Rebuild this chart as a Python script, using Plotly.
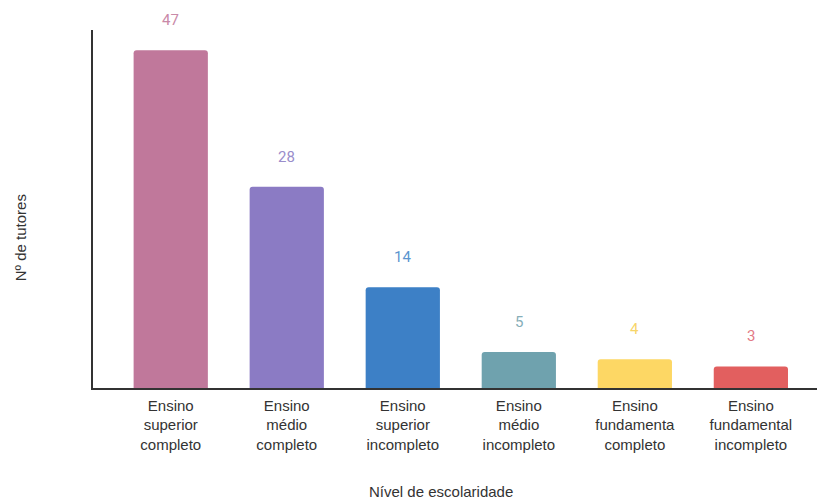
import plotly.graph_objects as go

categories = [
    "Ensino<br>superior<br>completo",
    "Ensino<br>médio<br>completo",
    "Ensino<br>superior<br>incompleto",
    "Ensino<br>médio<br>incompleto",
    "Ensino<br>fundamenta<br>completo",
    "Ensino<br>fundamental<br>incompleto",
]
values = [47, 28, 14, 5, 4, 3]
bar_colors = ["#c0789b", "#8b7bc4", "#3d80c6", "#6fa2ae", "#fdd764", "#e25f5f"]
label_colors = ["#c98aa8", "#9a8dcb", "#5b95cf", "#86aeb8", "#f7d56a", "#e37a86"]

fig = go.Figure()
fig.add_trace(go.Bar(
    x=list(range(len(categories))),
    y=values,
    marker=dict(color=bar_colors, line=dict(width=0), cornerradius=3),
    width=0.64,
    hoverinfo="skip",
))

# value labels floating above each bar
for i, v in enumerate(values):
    fig.add_annotation(
        x=i, y=v, text=str(v), showarrow=False, yshift=30,
        font=dict(family="Roboto", size=15, color=label_colors[i]),
    )

fig.add_annotation(
    xref="paper", yref="paper", x=-0.1, xanchor="center", y=0.42, yanchor="middle",
    text="Nº de tutores", textangle=-90, showarrow=False,
    font=dict(family="Liberation Sans, Arial", size=15, color="#333333"),
)
fig.add_annotation(
    xref="paper", yref="paper", x=0.48, y=-0.29, yanchor="middle",
    text="Nível de escolaridade", showarrow=False,
    font=dict(family="Liberation Sans, Arial", size=15, color="#333333"),
)

fig.update_layout(
    width=817, height=500,
    margin=dict(l=93, r=0, t=30, b=112),
    paper_bgcolor="white", plot_bgcolor="white",
    showlegend=False,
    xaxis=dict(
        tickmode="array", tickvals=list(range(len(categories))), ticktext=categories,
        range=[-0.67, 5.57], showgrid=False, zeroline=False,
        showline=True, linecolor="#333333", linewidth=1.5,
        tickfont=dict(family="Liberation Sans, Arial", size=15, color="#333333"),
        ticks="", ticklen=0, ticklabelstandoff=3,
    ),
    yaxis=dict(
        range=[0, 49.8], showgrid=False, zeroline=False, showticklabels=False,
        showline=True, linecolor="#333333", linewidth=1.5, ticks="",
    ),
)

fig.write_html("out.html")
